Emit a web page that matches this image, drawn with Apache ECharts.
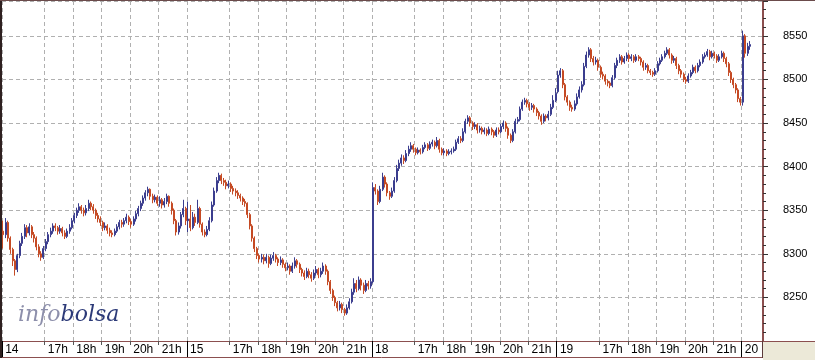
<!DOCTYPE html>
<html><head><meta charset="utf-8">
<script src="https://cdn.jsdelivr.net/npm/echarts@6/dist/echarts.min.js"></script>
<style>html,body{margin:0;padding:0;background:#fff}#c{width:815px;height:360px}</style>
</head><body><div id="c"></div>
<script>
// Session days and axis labels
const dayLabels = ['14', '15', '18', '19', '20'];
const slotsPerDay = [78, 78, 78, 78, 9];          // 5-minute bars per session
const hourTickLabels = ['17h', '18h', '19h', '20h', '21h'];
const hourTickTimes = ['17:00', '18:00', '19:00', '20:00', '21:00'];
const sessionOpen = '15:30';
const yTicks = [8250, 8300, 8350, 8400, 8450, 8500, 8550];

// OHLC bars: [open, close, low, high]
const day14Bars = [
[8326,8322,8306,8338],[8322,8336,8318,8341],[8336,8318,8314,8338],[8318,8305,8300,8320],[8305,8292,8286,8307],
[8292,8282,8275,8294],[8282,8298,8279,8300],[8298,8312,8295,8315],[8312,8320,8309,8324],[8320,8330,8317,8334],
[8330,8324,8319,8333],[8324,8331,8321,8335],[8331,8322,8318,8333],[8322,8318,8313,8325],[8318,8308,8304,8320],
[8308,8300,8296,8311],[8300,8296,8292,8303],[8296,8306,8294,8309],[8306,8314,8303,8317],[8314,8322,8311,8325],
[8322,8326,8319,8330],[8326,8332,8323,8335],[8332,8330,8326,8335],[8330,8326,8322,8332],[8326,8329,8323,8333],
[8329,8324,8320,8331],[8324,8320,8317,8327],[8320,8326,8318,8329],[8326,8330,8323,8334],[8330,8338,8328,8341],
[8338,8344,8335,8347],[8344,8350,8341,8353],[8350,8354,8347,8358],[8354,8350,8346,8356],[8350,8347,8343,8353],
[8347,8352,8344,8356],[8352,8358,8349,8362],[8358,8354,8350,8360],[8354,8350,8346,8357],[8350,8344,8340,8352],
[8344,8340,8336,8347],[8340,8336,8332,8343],[8336,8330,8326,8338],[8330,8332,8327,8336],[8332,8327,8323,8334],
[8327,8324,8320,8330],[8324,8322,8319,8327],[8322,8326,8320,8329],[8326,8331,8324,8334],[8331,8336,8328,8339],
[8336,8334,8330,8339],[8334,8338,8331,8341],[8338,8342,8335,8346],[8342,8337,8333,8344],[8337,8334,8330,8340],
[8334,8340,8332,8343],[8340,8346,8337,8349],[8346,8352,8343,8355],[8352,8358,8349,8361],[8358,8364,8355,8367],
[8364,8370,8361,8373],[8370,8374,8366,8377],[8374,8366,8362,8375],[8366,8362,8358,8369],[8362,8365,8359,8368],
[8365,8358,8355,8367],[8358,8362,8354,8366],[8362,8356,8352,8364],[8356,8360,8353,8364],[8360,8366,8357,8369],
[8366,8358,8354,8367],[8358,8350,8345,8360],[8350,8338,8334,8352],[8338,8325,8321,8340],[8325,8332,8322,8336],
[8332,8345,8329,8348],[8345,8352,8342,8362],[8352,8338,8333,8354]
];
const day15Bars = [
[8338,8340,8325,8360],[8340,8330,8326,8356],[8330,8342,8328,8348],[8342,8336,8332,8346],[8336,8352,8334,8362],
[8352,8334,8330,8354],[8334,8325,8321,8336],[8325,8322,8319,8328],[8322,8328,8320,8332],[8328,8338,8326,8342],
[8338,8356,8336,8360],[8356,8372,8354,8376],[8372,8384,8370,8388],[8384,8390,8381,8393],[8390,8384,8380,8392],
[8384,8382,8378,8387],[8382,8378,8374,8385],[8378,8380,8375,8384],[8380,8375,8371,8382],[8375,8372,8368,8378],
[8372,8370,8366,8375],[8370,8367,8363,8373],[8367,8364,8360,8369],[8364,8360,8356,8366],[8360,8358,8354,8363],
[8358,8345,8341,8359],[8345,8332,8328,8347],[8332,8318,8314,8334],[8318,8306,8302,8320],[8306,8298,8294,8308],
[8298,8294,8290,8300],[8294,8296,8290,8300],[8296,8292,8288,8299],[8292,8296,8289,8300],[8296,8289,8284,8298],
[8289,8295,8287,8299],[8295,8298,8292,8302],[8298,8294,8290,8300],[8294,8290,8286,8296],[8290,8293,8287,8297],
[8293,8288,8284,8295],[8288,8284,8280,8290],[8284,8286,8281,8290],[8286,8280,8276,8288],[8280,8286,8278,8290],
[8286,8292,8283,8296],[8292,8288,8284,8294],[8288,8282,8278,8290],[8282,8278,8274,8284],[8278,8274,8270,8281],
[8274,8280,8272,8284],[8280,8276,8272,8283],[8276,8272,8268,8279],[8272,8278,8270,8282],[8278,8282,8275,8286],
[8282,8276,8272,8284],[8276,8280,8273,8284],[8280,8286,8277,8290],[8286,8280,8276,8288],[8280,8268,8264,8282],
[8268,8258,8254,8270],[8258,8250,8246,8260],[8250,8244,8240,8252],[8244,8238,8234,8246],[8238,8242,8235,8246],
[8242,8236,8232,8244],[8236,8232,8229,8238],[8232,8238,8230,8242],[8238,8245,8236,8249],[8245,8256,8243,8260],
[8256,8266,8253,8272],[8266,8260,8256,8270],[8260,8270,8258,8274],[8270,8264,8258,8272],[8264,8258,8254,8267],
[8258,8266,8256,8270],[8266,8263,8259,8269],[8263,8268,8260,8272]
];
const day18Bars = [
[8268,8376,8266,8382],[8376,8372,8368,8380],[8372,8360,8356,8374],[8360,8374,8358,8378],[8374,8388,8372,8393],
[8388,8380,8376,8390],[8380,8370,8366,8382],[8370,8366,8362,8372],[8366,8372,8364,8376],[8372,8384,8370,8388],
[8384,8398,8382,8402],[8398,8404,8395,8408],[8404,8410,8401,8414],[8410,8407,8403,8413],[8407,8415,8405,8419],
[8415,8420,8412,8424],[8420,8424,8417,8428],[8424,8420,8416,8426],[8420,8416,8413,8422],[8416,8419,8414,8422],
[8419,8417,8414,8421],[8417,8422,8415,8425],[8422,8425,8420,8428],[8425,8421,8418,8427],[8421,8426,8419,8429],
[8426,8428,8423,8431],[8428,8424,8420,8430],[8424,8430,8422,8434],[8430,8420,8416,8432],[8420,8416,8413,8422],
[8416,8418,8413,8421],[8418,8415,8412,8420],[8415,8417,8413,8420],[8417,8418,8414,8421],[8418,8420,8416,8423],
[8420,8428,8418,8431],[8428,8432,8426,8435],[8432,8430,8427,8435],[8430,8440,8428,8444],[8440,8452,8438,8455],
[8452,8456,8449,8459],[8456,8450,8446,8458],[8450,8446,8442,8452],[8446,8448,8443,8451],[8448,8442,8438,8450],
[8442,8444,8439,8447],[8444,8440,8437,8446],[8440,8442,8437,8445],[8442,8438,8435,8444],[8438,8443,8436,8446],
[8443,8440,8436,8445],[8440,8436,8433,8442],[8436,8442,8434,8445],[8442,8440,8437,8445],[8440,8446,8438,8449],
[8446,8450,8443,8453],[8450,8444,8440,8452],[8444,8436,8432,8446],[8436,8430,8427,8438],[8430,8440,8428,8443],
[8440,8452,8438,8455],[8452,8454,8449,8457],[8454,8466,8452,8469],[8466,8474,8464,8477],[8474,8476,8471,8479],
[8476,8472,8468,8478],[8472,8468,8464,8474],[8468,8470,8465,8473],[8470,8466,8462,8472],[8466,8462,8458,8468],
[8462,8458,8454,8464],[8458,8452,8448,8460],[8452,8458,8450,8461],[8458,8456,8452,8460],[8456,8460,8453,8464],
[8460,8468,8458,8472],[8468,8476,8466,8482],[8476,8484,8474,8490]
];
const day19Bars = [
[8486,8505,8484,8510],[8505,8510,8502,8513],[8510,8494,8490,8512],[8494,8480,8476,8496],[8480,8474,8470,8482],
[8474,8468,8464,8476],[8468,8466,8463,8471],[8466,8472,8464,8476],[8472,8480,8470,8484],[8480,8488,8478,8492],
[8488,8494,8485,8498],[8494,8515,8492,8519],[8515,8528,8513,8532],[8528,8534,8525,8537],[8534,8524,8520,8536],
[8524,8520,8516,8527],[8520,8522,8517,8526],[8522,8514,8510,8524],[8514,8506,8502,8516],[8506,8504,8500,8509],
[8504,8498,8494,8506],[8498,8496,8492,8500],[8496,8493,8490,8498],[8493,8502,8491,8505],[8502,8516,8500,8519],
[8516,8522,8513,8525],[8522,8526,8519,8529],[8526,8520,8517,8528],[8520,8524,8518,8527],[8524,8528,8521,8531],
[8528,8524,8520,8530],[8524,8526,8521,8529],[8526,8522,8519,8528],[8522,8526,8520,8529],[8526,8524,8521,8528],
[8524,8520,8516,8526],[8520,8514,8510,8522],[8514,8516,8511,8519],[8516,8510,8507,8518],[8510,8508,8505,8512],
[8508,8506,8503,8510],[8506,8510,8504,8513],[8510,8518,8508,8521],[8518,8522,8516,8525],[8522,8526,8520,8529],
[8526,8530,8524,8533],[8530,8534,8528,8537],[8534,8528,8524,8536],[8528,8522,8518,8530],[8522,8524,8519,8527],
[8524,8516,8512,8526],[8516,8510,8506,8518],[8510,8506,8502,8512],[8506,8500,8497,8508],[8500,8498,8495,8503],
[8498,8504,8496,8507],[8504,8508,8502,8511],[8508,8514,8506,8517],[8514,8510,8507,8516],[8510,8516,8508,8519],
[8516,8520,8514,8523],[8520,8526,8518,8529],[8526,8528,8524,8531],[8528,8532,8526,8535],[8532,8526,8522,8534],
[8526,8530,8524,8533],[8530,8527,8524,8532],[8527,8522,8519,8529],[8522,8526,8520,8529],[8526,8530,8524,8533],
[8530,8524,8520,8532],[8524,8518,8514,8526],[8518,8508,8504,8520],[8508,8500,8496,8510],[8500,8494,8490,8502],
[8494,8488,8484,8496],[8488,8478,8474,8490],[8478,8474,8470,8480]
];
const day20Bars = [
[8474,8550,8470,8556],[8550,8530,8525,8552],[8530,8538,8527,8542],[8538,8540,8534,8544]
];

// ---- build categories ----
const categories = [];
dayLabels.forEach((d, di) => {
  for (let j = 0; j < slotsPerDay[di]; j++) {
    const m = 15 * 60 + 30 + 5 * j;
    const t = String(Math.floor(m / 60)).padStart(2, '0') + ':' + String(m % 60).padStart(2, '0');
    categories.push(d + ' ' + t);
  }
});
const allBars = [].concat(day14Bars, day15Bars, day18Bars, day19Bars, day20Bars);
const seriesData = categories.map((c, i) => i < allBars.length ? allBars[i] : '-');

const timeOf = v => String(v).split(' ')[1];
const dayOf = v => String(v).split(' ')[0];
const isDayStart = v => timeOf(v) === sessionOpen;
const isMarked = v => isDayStart(v) || hourTickTimes.indexOf(timeOf(v)) >= 0;

const UP = '#3b3d8e', DOWN = '#c54a24';
const FRAME = '#8b4f4f';

const chart = echarts.init(document.getElementById('c'), null, { renderer: 'canvas' });
chart.setOption({
  animation: false,
  backgroundColor: '#ffffff',
  grid: { left: 2, right: 52, top: 1, bottom: 19, containLabel: false },
  xAxis: [{
    type: 'category',
    data: categories,
    boundaryGap: true,
    axisLine: { show: true, lineStyle: { color: FRAME, width: 1 } },
    axisTick: { show: true, length: 4, interval: (i, v) => isMarked(v) && !isDayStart(v), lineStyle: { color: '#555' } },
    axisLabel: {
      show: true, interval: (i, v) => isMarked(v), align: 'left', margin: 3,
      padding: [0, 0, 0, 2],
      fontFamily: 'Liberation Sans, Arial, sans-serif', fontSize: 12, color: '#000',
      formatter: v => isDayStart(v) ? dayOf(v) : hourTickLabels[hourTickTimes.indexOf(timeOf(v))]
    },
    splitLine: { show: true, interval: (i, v) => isMarked(v), lineStyle: { color: '#b0b0b0', type: [4, 3], width: 1 } }
  }, {
    type: 'category',
    data: categories,
    boundaryGap: true,
    position: 'bottom',
    axisLine: { show: false },
    axisTick: { show: true, length: 16, interval: (i, v) => isDayStart(v), lineStyle: { color: '#000', width: 1 } },
    axisLabel: { show: false },
    splitLine: { show: false }
  }],
  yAxis: {
    type: 'value',
    position: 'right',
    min: 8200, max: 8590, interval: 50,
    axisLine: { show: true, lineStyle: { color: FRAME, width: 2 } },
    axisTick: { show: true, length: 5, inside: false, lineStyle: { color: '#333' } },
    minorTick: { show: true, splitNumber: 5, length: 3, lineStyle: { color: '#333' } },
    axisLabel: {
      margin: 20, fontFamily: 'Liberation Sans, Arial, sans-serif', fontSize: 11, color: '#000',
      showMinLabel: false, showMaxLabel: false,
      formatter: v => yTicks.indexOf(v) >= 0 ? String(v) : ''
    },
    splitLine: { show: true, lineStyle: { color: '#b0b0b0', type: [4, 3], width: 1 } }
  },
  series: [{
    type: 'candlestick',
    xAxisIndex: 0,
    data: seriesData,
    barWidth: 1.5,
    itemStyle: { color: UP, color0: DOWN, borderColor: UP, borderColor0: DOWN, borderWidth: 1 }
  }],
  graphic: [
    { type: 'rect', shape: { x: 763, y: 341, width: 52, height: 19 }, style: { fill: '#ece9d8' }, z: 10 },
    { type: 'line', shape: { x1: 763, y1: 341.5, x2: 815, y2: 341.5 }, style: { stroke: FRAME, lineWidth: 1 }, z: 11 },
    { type: 'line', shape: { x1: 0, y1: 357.5, x2: 763, y2: 357.5 }, style: { stroke: FRAME, lineWidth: 1 }, z: 11 },
    { type: 'line', shape: { x1: 762.5, y1: 341, x2: 762.5, y2: 358 }, style: { stroke: '#5a3a3a', lineWidth: 1 }, z: 11 },
    { type: 'rect', shape: { x: 0, y: 0, width: 2, height: 358 }, style: { fill: '#2e2020' }, z: 11 },
    { type: 'line', shape: { x1: 0, y1: 0.5, x2: 815, y2: 0.5 }, style: { stroke: '#6b4b4b', lineWidth: 1 }, z: 11 },
    {
      type: 'text', x: 18, y: 315, z: 12,
      style: {
        text: '{a|info}{b|bolsa}', verticalAlign: 'middle',
        rich: {
          a: { fontFamily: 'DejaVu Serif', fontStyle: 'italic', fontSize: 22, fill: '#8d8fab' },
          b: { fontFamily: 'DejaVu Serif', fontStyle: 'italic', fontSize: 22, fill: '#2c3a78' }
        }
      }
    }
  ]
});
</script></body></html>
